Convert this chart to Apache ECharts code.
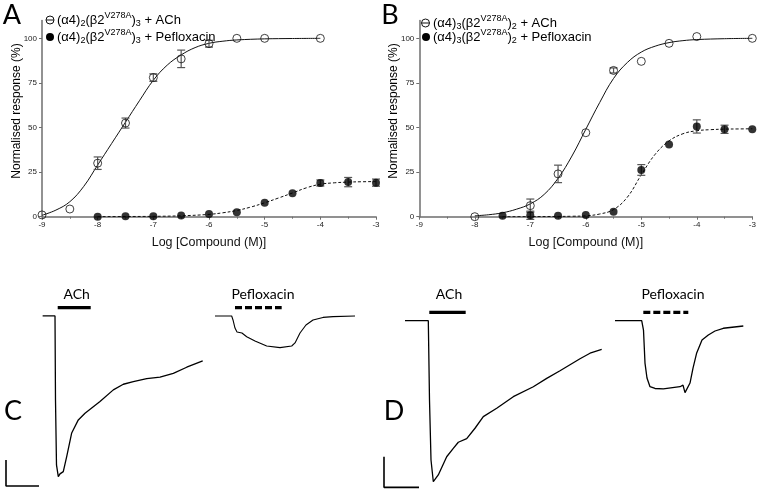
<!DOCTYPE html>
<html><head><meta charset="utf-8">
<script src="https://cdn.jsdelivr.net/npm/echarts@6/dist/echarts.min.js"></script>
<style>html,body{margin:0;padding:0;background:#fff}#c{width:763px;height:498px}</style>
</head><body><div id="c"></div>
<script>
// ---------- Panel A data (log concentration, % response, SEM) ----------
const aAchX   = [-9, -8.5, -8, -7.5, -7, -6.5, -6, -5.5, -5, -4];
const aAchY   = [1, 4.3, 30, 52.5, 78, 88.5, 97, 100, 100, 100];
const aAchErr = [0, 0, 3.5, 2.8, 2.1, 4.9, 1.9, 0, 0, 0];
const aPefX   = [-8, -7.5, -7, -6.5, -6, -5.5, -5, -4.5, -4, -3.5, -3];
const aPefY   = [0, 0.2, 0.3, 0.7, 1.5, 2.5, 7.8, 13.1, 18.9, 19.4, 19.1];
const aPefErr = [0, 0, 0, 0, 0, 0, 0, 0, 1.7, 2.6, 2];
const aAchFitX = [-9, -8.75, -8.5, -8.25, -8, -7.75, -7.5, -7.25, -7, -6.75, -6.5, -6.25, -6, -5.75, -5.5, -5, -4.5, -4];
const aAchFitY = [0.8, 3.7, 8.4, 17, 29, 41, 53, 65, 76.5, 85, 90.7, 94.8, 97.2, 98.4, 99.1, 99.7, 99.9, 100];
const aPefFitX = [-8, -7.5, -7, -6.5, -6, -5.75, -5.5, -5.25, -5, -4.75, -4.5, -4.25, -4, -3.75, -3.5, -3.25, -3];
const aPefFitY = [0.05, 0.1, 0.2, 0.5, 1.3, 2.2, 3.5, 5.4, 7.8, 10.5, 13.3, 16.2, 18.2, 19.0, 19.4, 19.6, 19.7];

// ---------- Panel B data ----------
const bAchX   = [-8, -7, -6.5, -6, -5.5, -5, -4.5, -4, -3];
const bAchY   = [0, 6.2, 24, 47.1, 82, 87.1, 97.2, 101, 100];
const bAchErr = [0, 3.7, 4.9, 0, 1.4, 0, 0, 0, 0];
const bPefX   = [-7.5, -7, -6.5, -6, -5.5, -5, -4.5, -4, -3.5, -3];
const bPefY   = [0.5, 0.8, 0.5, 1, 2.8, 26.2, 40.5, 50.6, 49, 49];
const bPefErr = [0, 2.3, 0, 0, 0, 3, 0, 3.7, 2.3, 0];
const bAchFitX = [-8, -7.75, -7.5, -7.25, -7, -6.75, -6.5, -6.25, -6, -5.75, -5.5, -5.25, -5, -4.75, -4.5, -4.25, -4, -3.5, -3];
const bAchFitY = [0.5, 1.1, 2.2, 4.2, 7.2, 12.5, 21.5, 34, 49, 64, 77.5, 86.5, 92.3, 95.6, 97.6, 98.7, 99.3, 99.8, 100];
const bPefFitX = [-7.5, -7, -6.5, -6.25, -6, -5.75, -5.5, -5.25, -5, -4.75, -4.5, -4.25, -4, -3.75, -3.5, -3.25, -3];
const bPefFitY = [0, 0.05, 0.15, 0.25, 0.5, 1.5, 4, 11, 23.5, 35, 42.5, 46.5, 48.2, 48.8, 49.1, 49.2, 49.3];

const xTicks = [-9, -8, -7, -6, -5, -4, -3];
const yTicks = [0, 25, 50, 75, 100];

// ---------- Panel C traces (time s, normalised current) ----------
const cAchT = [11.1, 14.85, 15.0, 15.3, 15.85, 16.36, 16.88, 17.36, 18.39, 19.91, 21.91, 23.94, 28.48, 32.52, 35.55, 38.58, 42.64, 46.67, 50.7, 54.76, 59.61];
const cAchI = [0, 0, -0.523, -0.927, -1.0, -0.983, -0.975, -0.969, -0.876, -0.728, -0.647, -0.605, -0.533, -0.46, -0.425, -0.409, -0.39, -0.381, -0.357, -0.319, -0.28];
const cPefT = [63.33, 68.39, 68.79, 69.39, 70.0, 70.6, 71.5, 72.94, 75.45, 79.0, 83.03, 86.58, 87.58, 89.09, 90.9, 93.03, 96.06, 99.1, 105.76];
const cPefI = [0, 0, -0.025, -0.075, -0.1, -0.09, -0.106, -0.129, -0.156, -0.187, -0.197, -0.187, -0.168, -0.106, -0.056, -0.025, -0.009, -0.004, 0];
const cAchBar = [15.67, 25.67];
const cPefBar = [69.39, 83.54];
const cScaleT = [0, 0, 10];
const cScaleI = [-0.896, -1.058, -1.058];

// ---------- Panel D traces ----------
const dAchT = [6.0, 12.66, 13.0, 13.43, 14.09, 14.57, 15.51, 17.91, 19.8, 21.23, 23.63, 26.0, 28.37, 32.2, 36.94, 42.66, 46.49, 50.29, 56.0, 58.86, 62.2];
const dAchI = [0, 0, -0.493, -0.865, -1.0, -0.996, -0.958, -0.845, -0.793, -0.755, -0.733, -0.668, -0.596, -0.544, -0.472, -0.41, -0.358, -0.311, -0.236, -0.202, -0.178];
const dPefT = [66.0, 73.63, 74.14, 74.57, 75.14, 76.0, 77.43, 79.8, 84.57, 85.43, 86.0, 86.57, 87.43, 88.29, 89.34, 90.86, 92.66, 94.57, 96.94, 102.66];
const dPefI = [0, 0, -0.058, -0.263, -0.356, -0.41, -0.421, -0.424, -0.41, -0.4, -0.447, -0.437, -0.387, -0.294, -0.2, -0.12, -0.089, -0.064, -0.047, -0.033];
const dAchBar = [12.94, 23.34];
const dPefBar = [74.09, 86.94];
const dScaleT = [0, 0, 10];
const dScaleI = [-0.845, -1.035, -1.035];
const barLevel = 0.052;

const zip = (xs, ys) => xs.map((x, i) => [x, ys[i]]);
const zip3 = (xs, ys, es) => xs.map((x, i) => [x, ys[i], es[i]]).filter(d => d[2] > 0);

const AX = '#6e6e6e';
const sans = 'Liberation Sans, Arial, sans-serif';
const cal = 'Lato, Carlito, sans-serif';

function doseX(idx) {
  return {
    type: 'value', gridIndex: idx, min: -9, max: -3, interval: 1,
    axisLine: { lineStyle: { color: AX, width: 1.5 } },
    axisTick: { length: 3, lineStyle: { color: AX, width: 1 } },
    minorTick: { show: true, splitNumber: 2, length: 2, lineStyle: { color: AX } },
    splitLine: { show: false },
    axisLabel: { fontSize: 8, color: '#222', margin: 4, fontFamily: sans,
      customValues: xTicks },
    name: 'Log [Compound (M)]', nameLocation: 'middle', nameGap: 19,
    nameTextStyle: { fontSize: 12.5, color: '#111', fontFamily: sans }
  };
}
function doseY(idx) {
  return {
    type: 'value', gridIndex: idx, min: 0, max: 110,
    axisLine: { show: true, lineStyle: { color: AX, width: 1.5 } },
    axisTick: { show: true, length: 3, lineStyle: { color: AX }, customValues: yTicks },
    splitLine: { show: false },
    axisLabel: { fontSize: 8, color: '#222', margin: 5, fontFamily: sans, customValues: yTicks,
      formatter: v => (v % 25 === 0 ? v : '') }
  };
}
function hiddenAxis(type, idx, min, max) {
  return { type: 'value', gridIndex: idx, min, max, show: false, splitLine: { show: false } };
}

function errSeries(xi, yi, data) {
  return {
    type: 'custom', xAxisIndex: xi, yAxisIndex: yi, data, z: 3, silent: true,
    renderItem(params, api) {
      const x = api.value(0), y = api.value(1), e = api.value(2);
      const t = api.coord([x, y + e]), b = api.coord([x, y - e]);
      const hw = 4, st = { stroke: '#555', lineWidth: 1.2 };
      return { type: 'group', children: [
        { type: 'line', shape: { x1: t[0], y1: t[1], x2: b[0], y2: b[1] }, style: st },
        { type: 'line', shape: { x1: t[0] - hw, y1: t[1], x2: t[0] + hw, y2: t[1] }, style: st },
        { type: 'line', shape: { x1: b[0] - hw, y1: b[1], x2: b[0] + hw, y2: b[1] }, style: st }
      ]};
    }
  };
}
function fit(xi, yi, xs, ys, dashed) {
  return { type: 'line', xAxisIndex: xi, yAxisIndex: yi, data: zip(xs, ys), smooth: 0.4,
    showSymbol: false, silent: true, z: 2,
    lineStyle: { color: '#111', width: 1, type: dashed ? [3, 2] : 'solid' } };
}
function pts(xi, yi, xs, ys, open) {
  return { type: 'scatter', xAxisIndex: xi, yAxisIndex: yi, data: zip(xs, ys), symbol: 'circle',
    symbolSize: 8, z: 4, silent: true,
    itemStyle: open ? { color: 'rgba(0,0,0,0)', borderColor: '#111', borderWidth: 1 } : { color: '#000' } };
}
function trace(xi, yi, ts, is, width, dash) {
  return { type: 'line', xAxisIndex: xi, yAxisIndex: yi, data: zip(ts, is), showSymbol: false,
    silent: true, lineStyle: { color: '#000', width: width, type: dash || 'solid' } };
}

function legendText(front, back, tail) {
  return '{n|(α4)}{sub|' + front + '}{n|(β2}{sup|V278A}{n|)}{sub|' + back + '}{n| + ' + tail + '}';
}
const rich = {
  n: { fontSize: 13, fontFamily: sans, color: '#111', lineHeight: 17 },
  sub: { fontSize: 9, fontFamily: sans, color: '#111', verticalAlign: 'bottom', lineHeight: 17 },
  sup: { fontSize: 9, fontFamily: sans, color: '#111', verticalAlign: 'top', lineHeight: 17 }
};
function legendSym(cx, cy, open) {
  if (open) return [
    { type: 'circle', shape: { cx, cy, r: 4 }, style: { fill: 'none', stroke: '#111', lineWidth: 1 } },
    { type: 'line', shape: { x1: cx - 4, y1: cy, x2: cx + 4, y2: cy }, style: { stroke: '#111', lineWidth: 1 } }
  ];
  return [{ type: 'circle', shape: { cx, cy, r: 4 }, style: { fill: '#000' } }];
}
function txt(x, y, text, size, font, align, rot) {
  return { type: 'text', x, y, rotation: rot || 0, style: { text, fontSize: size, fontFamily: font, fill: '#000',
    align: align || 'center', verticalAlign: 'middle' } };
}

const chart = echarts.init(document.getElementById('c'), null, { renderer: 'canvas' });
chart.setOption({
  animation: false,
  backgroundColor: '#fff',
  grid: [
    { left: 42, top: 20.5, width: 334, height: 196.2 },
    { left: 419.3, top: 20.5, width: 333, height: 196.2 },
    { left: 6, top: 299.9, width: 363, height: 192.8 },
    { left: 384, top: 304.6, width: 367.5, height: 193.2 }
  ],
  xAxis: [doseX(0), doseX(1), hiddenAxis('x', 2, 0, 110), hiddenAxis('x', 3, 0, 105)],
  yAxis: [doseY(0), doseY(1), hiddenAxis('y', 2, -1.1, 0.1), hiddenAxis('y', 3, -1.1, 0.1)],
  series: [
    fit(0, 0, aAchFitX, aAchFitY, false),
    fit(0, 0, aPefFitX, aPefFitY, true),
    errSeries(0, 0, zip3(aAchX, aAchY, aAchErr)),
    errSeries(0, 0, zip3(aPefX, aPefY, aPefErr)),
    pts(0, 0, aAchX, aAchY, true),
    pts(0, 0, aPefX, aPefY, false),

    fit(1, 1, bAchFitX, bAchFitY, false),
    fit(1, 1, bPefFitX, bPefFitY, true),
    errSeries(1, 1, zip3(bAchX, bAchY, bAchErr)),
    errSeries(1, 1, zip3(bPefX, bPefY, bPefErr)),
    pts(1, 1, bAchX, bAchY, true),
    pts(1, 1, bPefX, bPefY, false),

    trace(2, 2, cAchT, cAchI, 1.3),
    trace(2, 2, cPefT, cPefI, 1.1),
    trace(2, 2, cAchBar, [barLevel, barLevel], 3.2),
    trace(2, 2, cPefBar, [barLevel, barLevel], 3.2, [7, 3]),
    trace(2, 2, cScaleT, cScaleI, 1.6),

    trace(3, 3, dAchT, dAchI, 1.3),
    trace(3, 3, dPefT, dPefI, 1.3),
    trace(3, 3, dAchBar, [barLevel, barLevel], 3.2),
    trace(3, 3, dPefBar, [barLevel, barLevel], 3.2, [7, 3]),
    trace(3, 3, dScaleT, dScaleI, 1.6)
  ],
  graphic: [
    txt(12, 15, 'A', 27, cal),
    txt(390, 15, 'B', 27, cal),
    txt(13, 411, 'C', 27, cal),
    txt(394, 411, 'D', 27, cal),
    txt(76.7, 294, 'ACh', 14, cal),
    txt(263, 294, 'Pefloxacin', 14, cal),
    txt(449, 294, 'ACh', 14, cal),
    txt(673, 294, 'Pefloxacin', 14, cal),
    txt(17, 111, 'Normalised response (%)', 12, sans, 'center', Math.PI / 2),
    txt(394, 111, 'Normalised response (%)', 12, sans, 'center', Math.PI / 2),
    ...legendSym(50, 20, true),
    ...legendSym(50, 37, false),
    ...legendSym(425.5, 23, true),
    ...legendSym(426, 37, false),
    { type: 'text', x: 57, y: 20, style: { text: legendText('2', '3', 'ACh'), rich, verticalAlign: 'middle' } },
    { type: 'text', x: 57, y: 37, style: { text: legendText('2', '3', 'Pefloxacin'), rich, verticalAlign: 'middle' } },
    { type: 'text', x: 433, y: 23, style: { text: legendText('3', '2', 'ACh'), rich, verticalAlign: 'middle' } },
    { type: 'text', x: 433, y: 37, style: { text: legendText('3', '2', 'Pefloxacin'), rich, verticalAlign: 'middle' } }
  ]
});
</script>
</body></html>
